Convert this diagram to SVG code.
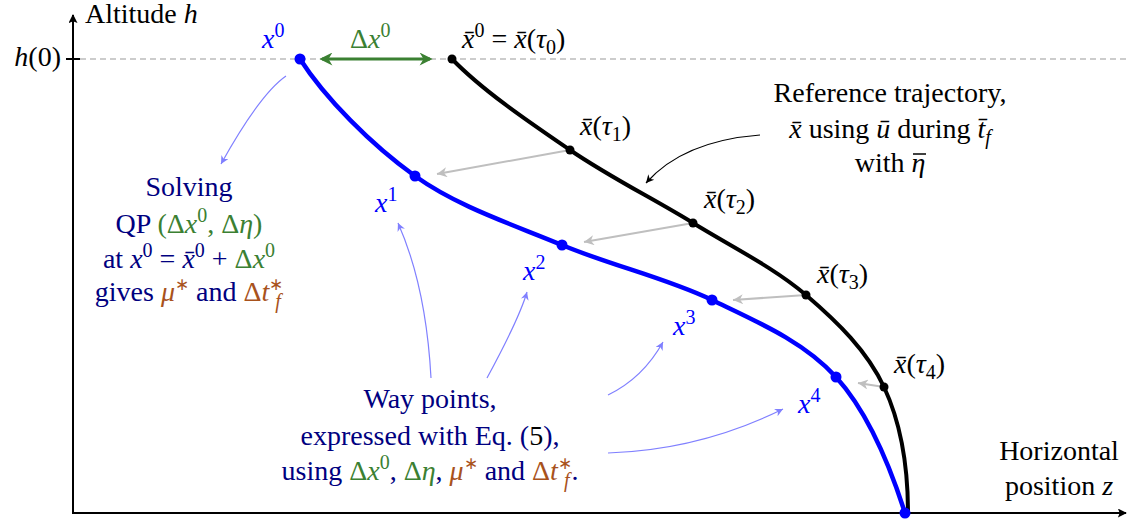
<svg xmlns="http://www.w3.org/2000/svg" width="1128" height="521" viewBox="0 0 1128 521">
<defs>
<style>
text{font-family:"Liberation Serif","Times New Roman",serif;font-size:28px;}
.m{font-style:italic;}
.nv{fill:#000080;}
.gr{fill:#3b8032;}
.br{fill:#a8521c;}
.bl{fill:#0000ff;}
.bk{fill:#000;}
.sup{font-size:20px;}
.st{font-size:17px;}
.lb{fill:none;stroke:#8080ff;stroke-width:1.2;}
.ga{fill:none;stroke:#bfbfbf;stroke-width:2;}
</style>
<marker id="ahGray" viewBox="0 0 10 10" refX="10" refY="5" markerWidth="14" markerHeight="10" markerUnits="userSpaceOnUse" orient="auto"><path d="M0,0 L10,5 L0,10 L3,5 z" fill="#bfbfbf"/></marker>
<marker id="ahLB" viewBox="0 0 10 10" refX="10" refY="5" markerWidth="11" markerHeight="8" markerUnits="userSpaceOnUse" orient="auto"><path d="M0,0 L10,5 L0,10 L3,5 z" fill="#8080ff"/></marker>
<marker id="ahBk" viewBox="0 0 10 10" refX="10" refY="5" markerWidth="11" markerHeight="8" markerUnits="userSpaceOnUse" orient="auto"><path d="M0,0 L10,5 L0,10 L3,5 z" fill="#000"/></marker>
<marker id="ahGr" viewBox="0 0 10 10" refX="8" refY="5" markerWidth="16" markerHeight="13" markerUnits="userSpaceOnUse" orient="auto-start-reverse"><path d="M0,0 L10,5 L0,10 L3,5 z" fill="#3b8032"/></marker>
<marker id="ahAx" viewBox="0 0 10 10" refX="9" refY="5" markerWidth="12" markerHeight="9" markerUnits="userSpaceOnUse" orient="auto"><path d="M0,0 L10,5 L0,10 L2,5 z" fill="#000"/></marker>
</defs>
<rect width="1128" height="521" fill="#fff"/>

<g id="axes">
<line x1="80" y1="59" x2="1128" y2="59" stroke="#999" stroke-width="1.2" stroke-dasharray="6,4"/>
<line x1="73" y1="514" x2="73" y2="15" stroke="#000" stroke-width="2" marker-end="url(#ahAx)"/>
<line x1="72" y1="513" x2="1126" y2="513" stroke="#000" stroke-width="2" marker-end="url(#ahAx)"/>
<line x1="66" y1="59" x2="80" y2="59" stroke="#000" stroke-width="2"/>
<text x="85" y="23" class="bk">Altitude <tspan class="m">h</tspan></text>
<text x="61" y="66" text-anchor="end" class="bk"><tspan class="m">h</tspan>(0)</text>
<text x="1059" y="460" text-anchor="middle" class="bk">Horizontal</text>
<text x="1059" y="495" text-anchor="middle" class="bk">position <tspan class="m">z</tspan></text>
</g>

<g id="connectors">
<path class="ga" d="M570,150 L437,174" marker-end="url(#ahGray)"/>
<path class="ga" d="M693,223 L584,242" marker-end="url(#ahGray)"/>
<path class="ga" d="M806,295 L733,300" marker-end="url(#ahGray)"/>
<path class="ga" d="M884,387 L858,383" marker-end="url(#ahGray)"/>
<path class="lb" d="M286,76 Q260,94 221,164" marker-end="url(#ahLB)"/>
<path class="lb" d="M431,378 Q426,286 398,223" marker-end="url(#ahLB)"/>
<path class="lb" d="M487,378 Q519,319 527,292" marker-end="url(#ahLB)"/>
<path class="lb" d="M608,395 Q643,378 663,342" marker-end="url(#ahLB)"/>
<path class="lb" d="M608,453 Q700,450 783,409" marker-end="url(#ahLB)"/>
<path d="M760,135 Q683,141 646,183" fill="none" stroke="#000" stroke-width="1.2" marker-end="url(#ahBk)"/>
<line x1="322" y1="59" x2="430" y2="59" stroke="#3b8032" stroke-width="3" marker-start="url(#ahGr)" marker-end="url(#ahGr)"/>
</g>

<g id="reference-trajectory">
<path d="M452,59 C483,91 529.8,122.5 570,150 C610.2,177.5 653.7,198.8 693,223 C732.3,247.2 774.2,267.7 806,295 C837.8,322.3 867,350.7 884,387 C901,423.3 908,468 908,513" fill="none" stroke="#000" stroke-width="4"/>
<circle cx="452" cy="59" r="4.5" fill="#000"/>
<circle cx="570" cy="150" r="4.5" fill="#000"/>
<circle cx="693" cy="223" r="4.5" fill="#000"/>
<circle cx="806" cy="295" r="4.5" fill="#000"/>
<circle cx="884" cy="387" r="4.5" fill="#000"/>
</g>

<g id="way-trajectory">
<path d="M300,59 C325,98 371.3,144.8 415,176 C458.7,207.2 512.5,224.3 562,245 C611.5,265.7 666.3,278 712,300 C757.7,322 803.8,341.5 836,377 C868.2,412.5 890,466 905,513" fill="none" stroke="#0000ff" stroke-width="4.5"/>
<circle cx="300" cy="59" r="5.5" fill="#0000ff"/>
<circle cx="415" cy="176" r="5.5" fill="#0000ff"/>
<circle cx="562" cy="245" r="5.5" fill="#0000ff"/>
<circle cx="712" cy="300" r="5.5" fill="#0000ff"/>
<circle cx="836" cy="377" r="5.5" fill="#0000ff"/>
<circle cx="905" cy="513" r="5.5" fill="#0000ff"/>
</g>

<g id="labels-reference">
<text x="462" y="48" class="bk"><tspan class="m">x̄</tspan><tspan class="sup" dy="-11">0</tspan><tspan dy="11"> = </tspan><tspan class="m">x̄</tspan>(<tspan class="m">τ</tspan><tspan class="sup" dy="6">0</tspan><tspan dy="-6">)</tspan></text>
<text x="580" y="135" class="bk"><tspan class="m">x̄</tspan>(<tspan class="m">τ</tspan><tspan class="sup" dy="6">1</tspan><tspan dy="-6">)</tspan></text>
<text x="704" y="208" class="bk"><tspan class="m">x̄</tspan>(<tspan class="m">τ</tspan><tspan class="sup" dy="6">2</tspan><tspan dy="-6">)</tspan></text>
<text x="817" y="283" class="bk"><tspan class="m">x̄</tspan>(<tspan class="m">τ</tspan><tspan class="sup" dy="6">3</tspan><tspan dy="-6">)</tspan></text>
<text x="894" y="373" class="bk"><tspan class="m">x̄</tspan>(<tspan class="m">τ</tspan><tspan class="sup" dy="6">4</tspan><tspan dy="-6">)</tspan></text>
</g>

<g id="labels-way">
<text x="262" y="48" class="bl"><tspan class="m">x</tspan><tspan class="sup" dy="-11">0</tspan></text>
<text x="375" y="212" class="bl"><tspan class="m">x</tspan><tspan class="sup" dy="-11">1</tspan></text>
<text x="523" y="280" class="bl"><tspan class="m">x</tspan><tspan class="sup" dy="-11">2</tspan></text>
<text x="673" y="335" class="bl"><tspan class="m">x</tspan><tspan class="sup" dy="-11">3</tspan></text>
<text x="798" y="413" class="bl"><tspan class="m">x</tspan><tspan class="sup" dy="-11">4</tspan></text>
<text x="350" y="48" class="gr">Δ<tspan class="m">x</tspan><tspan class="sup" dy="-11">0</tspan></text>
</g>

<g id="note-reference">
<text x="890" y="102" text-anchor="middle" class="bk">Reference trajectory,</text>
<text x="890" y="138" text-anchor="middle" class="bk"><tspan class="m">x̄</tspan> using <tspan class="m">ū</tspan> during <tspan class="m">t̄</tspan><tspan class="sup m" dy="6">f</tspan></text>
<text x="890" y="172" text-anchor="middle" class="bk">with <tspan class="m">η</tspan></text>
<line x1="913" y1="154" x2="926" y2="154" stroke="#000" stroke-width="1.5"/>
</g>

<g id="note-qp">
<text x="189" y="196" text-anchor="middle" class="nv">Solving</text>
<text x="189" y="233" text-anchor="middle" class="nv">QP <tspan class="gr">(Δ<tspan class="m">x</tspan><tspan class="sup" dy="-11">0</tspan><tspan dy="11">, Δ</tspan><tspan class="m">η</tspan>)</tspan></text>
<text x="189" y="268" text-anchor="middle" class="nv">at <tspan class="m">x</tspan><tspan class="sup" dy="-11">0</tspan><tspan dy="11"> = </tspan><tspan class="m">x̄</tspan><tspan class="sup" dy="-11">0</tspan><tspan dy="11"> + </tspan><tspan class="gr">Δ<tspan class="m">x</tspan><tspan class="sup" dy="-11">0</tspan></tspan></text>
<text x="189" y="301" text-anchor="middle" class="nv">gives <tspan class="br m">μ</tspan><tspan class="br st" dy="-11">∗</tspan><tspan dy="11"> and </tspan><tspan class="br">Δ<tspan class="m">t</tspan><tspan class="st" dy="-11">∗</tspan><tspan class="sup m" dx="-8" dy="18">f</tspan></tspan></text>
</g>

<g id="note-waypoints">
<text x="430" y="408" text-anchor="middle" class="nv">Way points,</text>
<text x="430" y="445" text-anchor="middle" class="nv">expressed with Eq. (<tspan class="bk">5</tspan>),</text>
<text x="430" y="480" text-anchor="middle" class="nv">using <tspan class="gr">Δ<tspan class="m">x</tspan><tspan class="sup" dy="-11">0</tspan></tspan><tspan dy="11">, </tspan><tspan class="gr">Δ<tspan class="m">η</tspan></tspan>, <tspan class="br m">μ</tspan><tspan class="br st" dy="-11">∗</tspan><tspan dy="11"> and </tspan><tspan class="br">Δ<tspan class="m">t</tspan><tspan class="st" dy="-11">∗</tspan><tspan class="sup m" dx="-8" dy="18">f</tspan></tspan><tspan dx="2" dy="-7">.</tspan></text>
</g>
</svg>
